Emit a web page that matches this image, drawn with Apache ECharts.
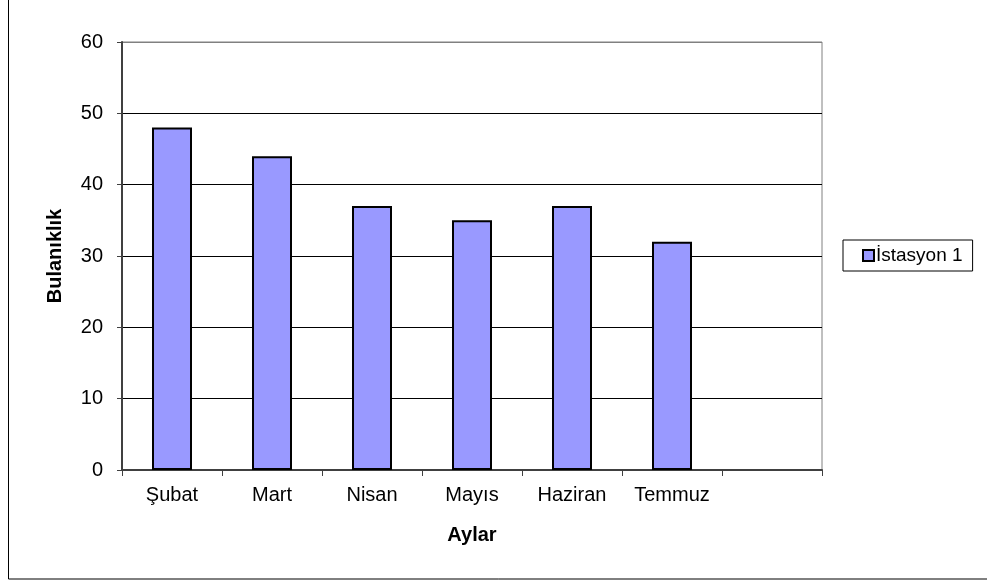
<!DOCTYPE html>
<html>
<head>
<meta charset="utf-8">
<script src="https://cdn.jsdelivr.net/npm/echarts@6/dist/echarts.min.js"></script>
<style>
  html, body { margin: 0; padding: 0; background: #fff; }
  #main { width: 987px; height: 582px; }
</style>
</head>
<body>
<div id="main"></div>
<script>
// aylar (son kategori boş)
var months = ["Şubat", "Mart", "Nisan", "Mayıs", "Haziran", "Temmuz", ""];
var station1 = [48, 44, 37, 35, 37, 32, null];
var yTicks = [0, 10, 20, 30, 40, 50, 60];

var chart = echarts.init(document.getElementById("main"));

var option = {
  backgroundColor: "#fff",
  textStyle: { fontFamily: "Liberation Sans, Arial, sans-serif" },
  animation: false,
  graphic: [
    {
      // dış çerçeve
      type: "rect",
      shape: { x: 8.5, y: -5, width: 1000, height: 584 },
      style: { fill: "none", stroke: "#000", lineWidth: 1 },
      z: 0,
    },
  ],
  grid: {
    left: 122,
    top: 42,
    width: 700,
    height: 428,
    show: true,
    borderColor: "#808080",
    borderWidth: 1,
    backgroundColor: "#fff",
  },
  legend: {
    left: 843,
    top: 240,
    orient: "vertical",
    data: ["İstasyon 1"],
    icon: "rect",
    itemWidth: 11,
    itemHeight: 11,
    itemGap: 0,
    padding: [6, 10, 6, 19],
    borderColor: "#000",
    borderWidth: 1,
    textStyle: { fontSize: 19, color: "#000", padding: [0, 0, 0, -3] },
  },
  xAxis: {
    type: "category",
    data: months,
    boundaryGap: true,
    name: "Aylar",
    nameLocation: "middle",
    nameGap: 55,
    nameTextStyle: { fontSize: 20, fontWeight: "bold", color: "#000" },
    axisLine: { lineStyle: { color: "#404040", width: 2 } },
    axisTick: { show: true, alignWithLabel: false, length: 6, lineStyle: { color: "#404040" } },
    axisLabel: { fontSize: 20, color: "#000", margin: 15, interval: 0 },
  },
  yAxis: {
    type: "value",
    min: 0,
    max: 60,
    interval: 10,
    name: "Bulanıklık",
    nameLocation: "middle",
    nameGap: 57,
    nameRotate: 90,
    nameTextStyle: { fontSize: 20, fontWeight: "bold", color: "#000" },
    axisLine: { show: true, lineStyle: { color: "#404040", width: 2 } },
    axisTick: { show: true, length: 5, lineStyle: { color: "#404040" } },
    axisLabel: {
      fontSize: 20,
      color: "#000",
      margin: 19,
      formatter: function (v) { return yTicks.indexOf(v) >= 0 ? String(v) : ""; },
    },
    splitLine: {
      show: true,
      lineStyle: {
        color: ["#000", "#000", "#000", "#000", "#000", "#000", "#808080"],
        width: 1,
      },
    },
  },
  series: [
    {
      name: "İstasyon 1",
      type: "bar",
      data: station1,
      barWidth: 40,
      itemStyle: { color: "#9999ff", borderColor: "#000", borderWidth: 2 },
    },
  ],
};

chart.setOption(option);
</script>
</body>
</html>
